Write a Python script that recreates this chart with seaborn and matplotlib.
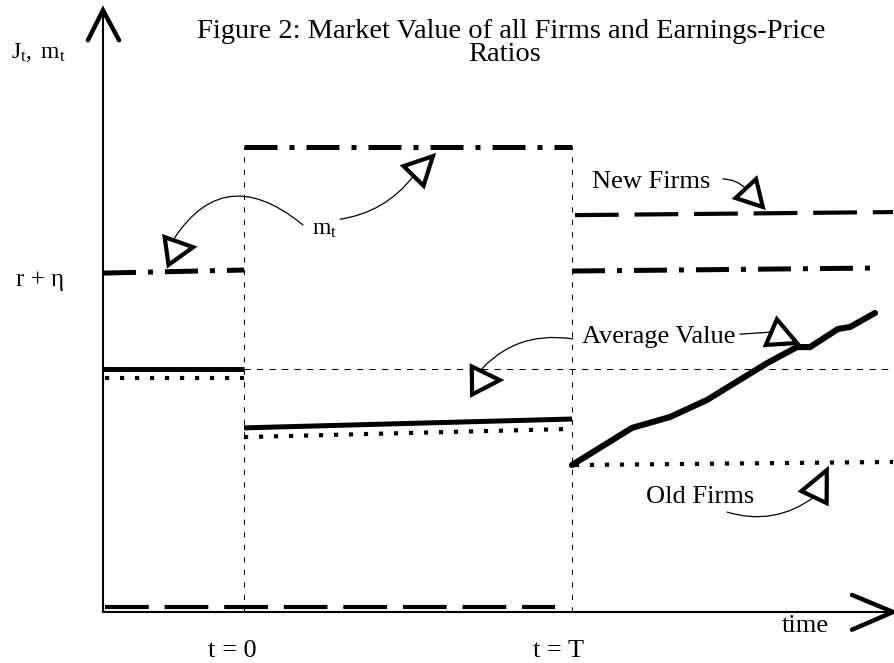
import numpy as np
import matplotlib
matplotlib.use("Agg")
import matplotlib.pyplot as plt
import seaborn as sns

# time axis: t = 0 at the first shock, t = T (=1) at the second
# value axis: r + eta = 1

# m_t (earnings-price ratio), dash-dot
mt_pre_t = [-0.43, 0.0]
mt_pre_v = [0.994, 1.003]
mt_mid_t = [0.0, 1.0]
mt_mid_v = [1.364, 1.364]
mt_post_t = [1.0, 1.939]
mt_post_v = [1.000, 1.009]

# new firms, dashed
new_pre_t = [-0.424, 0.948]
new_pre_v = [0.015, 0.015]
new_post_t = [1.009, 1.979]
new_post_v = [1.164, 1.173]

# average value, solid
avg_pre_t = [-0.43, 0.0]
avg_pre_v = [0.713, 0.713]
avg_mid_t = [0.0, 1.0]
avg_mid_v = [0.540, 0.566]
avg_post_t = [1.0, 1.183, 1.299, 1.412, 1.595, 1.686, 1.726, 1.811, 1.848, 1.924]
avg_post_v = [0.431, 0.540, 0.572, 0.622, 0.730, 0.777, 0.777, 0.830, 0.836, 0.877]

# old firms, dotted
old_pre_t = [-0.424, 0.0]
old_pre_v = [0.686, 0.686]
old_mid_t = [0.0, 1.0]
old_mid_v = [0.513, 0.537]
old_post_t = [1.009, 1.979]
old_post_v = [0.431, 0.440]

# thin reference line at the initial average value
ref_t = [0.0, 1.985]
ref_v = [0.713, 0.713]
shock_times = [0.0, 1.0]
shock_top = 1.364

title_1 = "Figure 2: Market Value of all Firms and Earnings-Price"
title_2 = "Ratios"

# annotations: (label start, triangle base, triangle tip, curvature)
arrows = [
    ((0.180, 1.135), (-0.236, 1.059), (-0.155, 1.070), 0.6),    # m_t left
    ((0.293, 1.152), (0.517, 1.279), (0.576, 1.337), 0.2),      # m_t right
    ((1.460, 1.270), (1.530, 1.242), (1.582, 1.188), -0.2),     # new firms
    ((1.512, 0.815), (1.608, 0.821), (1.686, 0.789), 0.0),      # average right
    ((1.003, 0.801), (0.695, 0.679), (0.780, 0.680), 0.3),      # average mid
    ((1.473, 0.293), (1.738, 0.337), (1.777, 0.416), 0.25),     # old firms
]

sns.set_theme(style="white")
plt.rcParams['font.family'] = ['Liberation Serif', 'DejaVu Serif']
plt.rcParams['text.color'] = 'black'
plt.rcParams['mathtext.fontset'] = 'custom'
plt.rcParams['mathtext.rm'] = 'Liberation Serif'
plt.rcParams['mathtext.it'] = 'Liberation Serif:italic'

fig = plt.figure(figsize=(8.95, 6.63), dpi=100)
ax = fig.add_axes([0, 0, 1, 1])
ax.set_xlim(-0.744, 1.985)
ax.set_ylim(-0.1496, 1.795)
ax.axis('off')

def line(t, v, lw, ls='-'):
    sns.lineplot(x=t, y=v, ax=ax, color='black', linewidth=lw, linestyle=ls,
                 estimator=None, sort=False, legend=False,
                 dash_capstyle='butt', solid_capstyle='butt')

dashdot = (0, (6.6, 2.4, 1.0, 2.4))
dashed = (0, (10.5, 3.8))
dotted = (0, (1.0, 2.6))

# reference lines first
line(ref_t, ref_v, 0.75, (0, (6, 6)))
for s in shock_times:
    line([s, s], [0, shock_top], 0.75, (0, (5, 7)))

for t, v in [(mt_pre_t, mt_pre_v), (mt_mid_t, mt_mid_v), (mt_post_t, mt_post_v)]:
    line(t, v, 3.6, dashdot)
for t, v in [(new_pre_t, new_pre_v), (new_post_t, new_post_v)]:
    line(t, v, 3.0, dashed)
for t, v in [(avg_pre_t, avg_pre_v), (avg_mid_t, avg_mid_v)]:
    line(t, v, 3.6)
ax.plot(avg_post_t, avg_post_v, color='black', lw=4.4, solid_capstyle='round',
        solid_joinstyle='round')
for t, v in [(old_pre_t, old_pre_v), (old_mid_t, old_mid_v), (old_post_t, old_post_v)]:
    line(t, v, 3.0, dotted)

# axes with open arrow heads
ax.plot([-0.43, -0.43], [0, 1.765], color='black', lw=1.5)
ax.plot([-0.43, 1.975], [0, 0], color='black', lw=1.5)
ax.plot([-0.476, -0.43, -0.381], [1.677, 1.765, 1.677], color='black', lw=3.2,
        solid_joinstyle='miter')
ax.plot([1.854, 1.979, 1.854], [0.050, 0, -0.052], color='black', lw=3.2,
        solid_joinstyle='miter')

# annotation curves and open triangles
to_px = ax.transData
to_data = ax.transData.inverted()
for start, base, tip, rad in arrows:
    ax.annotate('', xy=base, xytext=start,
                arrowprops=dict(arrowstyle='-', lw=0.9, color='black',
                                shrinkA=0, shrinkB=0,
                                connectionstyle=f'arc3,rad={rad}'))
    p = to_px.transform(tip)
    b = to_px.transform(base)
    d = p - b
    n = np.array([-d[1], d[0]]) / np.hypot(*d)
    pts = np.array([p, b + 14 * n, b - 14 * n])
    pts = to_data.transform(pts)
    ax.fill(pts[:, 0], pts[:, 1], facecolor='white', edgecolor='black',
            lw=3.0, joinstyle='miter', zorder=5)

fs = 19
ax.text(0.814, 1.702, title_1, ha='center', va='center', fontsize=20.5)
ax.text(0.793, 1.634, title_2, ha='center', va='center', fontsize=20.5)
ax.text(-0.628, 1.642, r'$\mathrm{J_t,\ m_t}$', ha='center', va='center', fontsize=17)
ax.text(-0.622, 0.974, 'r + η', ha='center', va='center', fontsize=18)
ax.text(0.247, 1.123, r'$\mathrm{m_t}$', ha='center', va='center', fontsize=17)
ax.text(1.241, 1.261, 'New Firms', ha='center', va='center', fontsize=fs)
ax.text(1.265, 0.806, 'Average Value', ha='center', va='center', fontsize=fs)
ax.text(1.390, 0.337, 'Old Firms', ha='center', va='center', fontsize=fs)
ax.text(1.710, -0.041, 'time', ha='center', va='center', fontsize=fs)
ax.text(-0.037, -0.114, 't = 0', ha='center', va='center', fontsize=fs)
ax.text(0.960, -0.114, 't = T', ha='center', va='center', fontsize=fs)

fig.savefig('out.png', dpi=100)
